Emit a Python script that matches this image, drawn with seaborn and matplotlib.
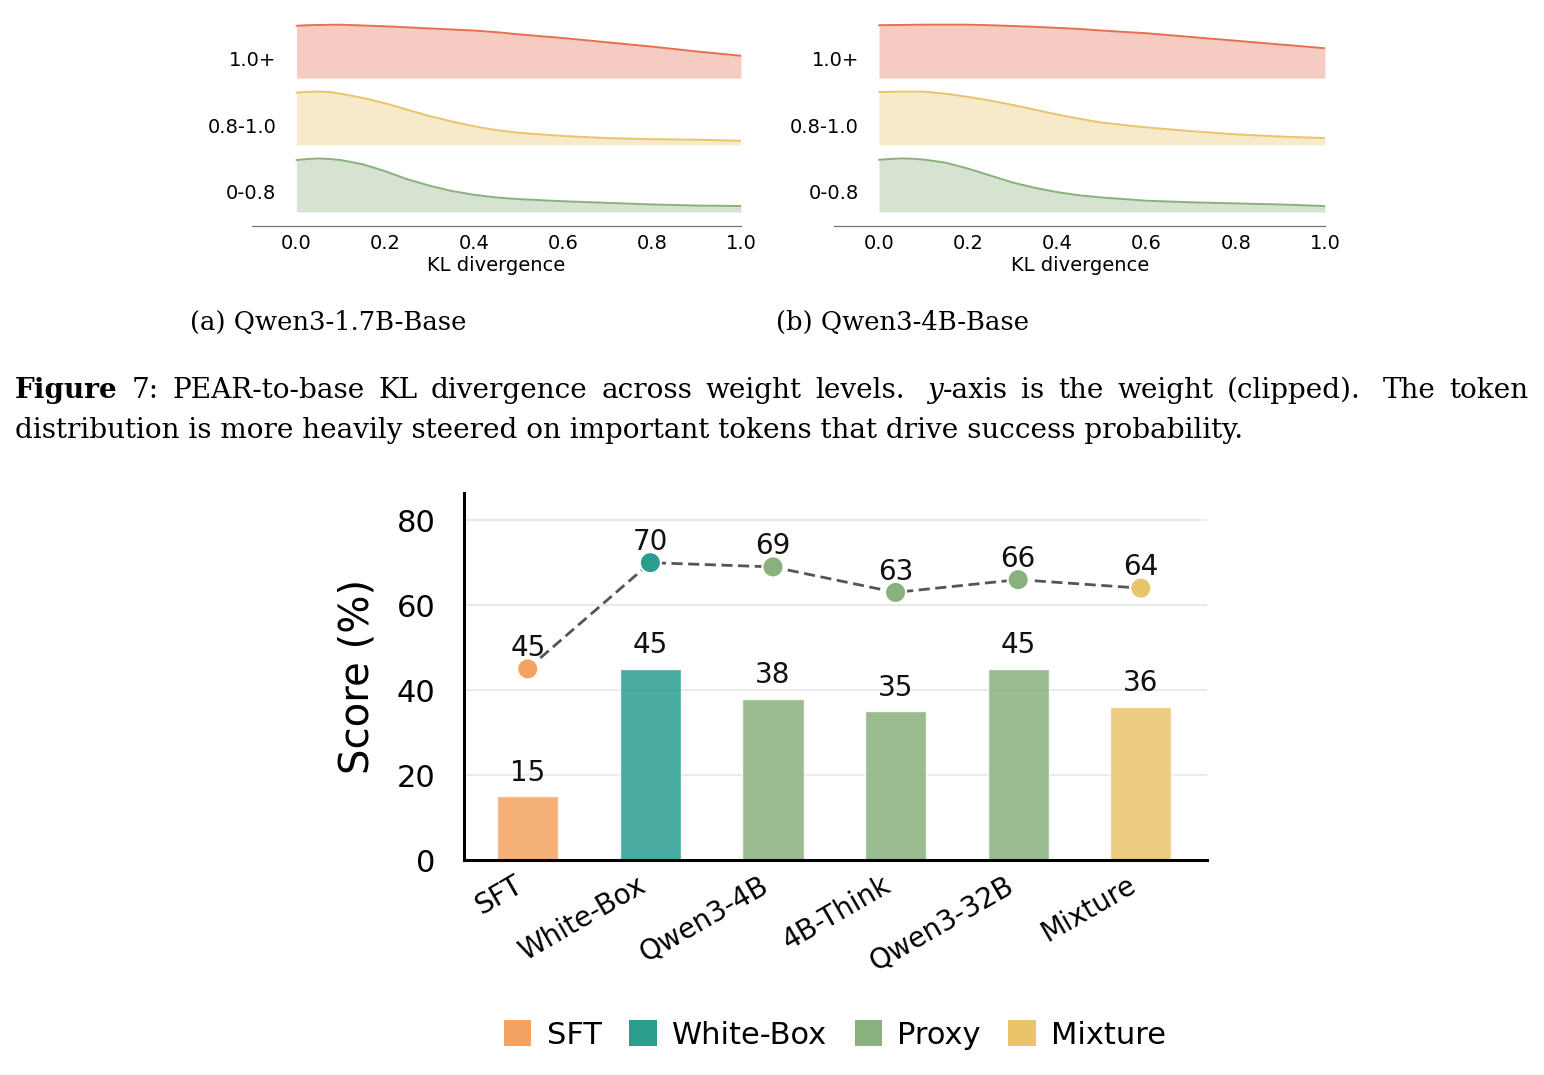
import numpy as np
import pandas as pd
import matplotlib
matplotlib.use("Agg")
import matplotlib.pyplot as plt
from matplotlib.patches import Patch
import seaborn as sb

# ---- data: KL divergence ridges (relative density)
kl_x = [0.0, 0.025, 0.05, 0.075, 0.1, 0.15, 0.2, 0.25, 0.3, 0.35, 0.4, 0.45, 0.5,
        0.6, 0.7, 0.8, 0.9, 1.0]
levels = ["0-0.8", "0.8-1.0", "1.0+"]
level_colors = ["#8ab17d", "#e9c46a", "#e76f51"]

a_low = [0.97, 0.99, 1.0, 0.99, 0.97, 0.89, 0.76, 0.61, 0.49, 0.39, 0.32, 0.27, 0.24,
         0.20, 0.17, 0.14, 0.12, 0.11]
a_mid = [0.98, 0.995, 1.0, 0.99, 0.96, 0.88, 0.78, 0.66, 0.54, 0.44, 0.35, 0.28, 0.23,
         0.17, 0.13, 0.11, 0.10, 0.08]
a_high = [0.98, 0.99, 0.995, 0.998, 1.0, 0.985, 0.97, 0.95, 0.93, 0.91, 0.89, 0.86, 0.82,
          0.75, 0.67, 0.59, 0.50, 0.42]

b_low = [0.975, 0.99, 1.0, 0.995, 0.98, 0.92, 0.81, 0.68, 0.55, 0.45, 0.37, 0.31, 0.27,
         0.21, 0.18, 0.16, 0.14, 0.11]
b_mid = [0.99, 0.995, 1.0, 1.0, 1.0, 0.96, 0.90, 0.83, 0.75, 0.66, 0.57, 0.49, 0.42,
         0.33, 0.26, 0.20, 0.16, 0.13]
b_high = [0.99, 0.993, 0.995, 0.998, 1.0, 1.0, 1.0, 0.99, 0.975, 0.96, 0.94, 0.92, 0.89,
          0.84, 0.77, 0.70, 0.63, 0.56]

# ---- data: scores
models = ["SFT", "White-Box", "Qwen3-4B", "4B-Think", "Qwen3-32B", "Mixture"]
groups = ["SFT", "White-Box", "Proxy", "Proxy", "Proxy", "Mixture"]
bar_scores = [15, 45, 38, 35, 45, 36]
line_scores = [45, 70, 69, 63, 66, 64]
group_names = ["SFT", "White-Box", "Proxy", "Mixture"]
group_colors = ["#f4a261", "#2a9d8f", "#8ab17d", "#e9c46a"]

W, H = 1544, 1075
sb.set_style("white")
plt.rcParams['font.family'] = ['DejaVu Sans']
for k in ['text.color', 'axes.labelcolor', 'xtick.color', 'ytick.color']:
    plt.rcParams[k] = 'black'
SERIF = "DejaVu Serif"

fig = plt.figure(figsize=(W / 100, H / 100), dpi=100)
renderer = fig.canvas.get_renderer()


def px_rect(x0, y0, x1, y1):
    return [x0 / W, 1 - y1 / H, (x1 - x0) / W, (y1 - y0) / H]


def fit_width(t, width):
    w = t.get_window_extent(renderer).width
    t.set_fontsize(t.get_fontsize() * width / w)


def ridge(rect, curves):
    ax = fig.add_axes(rect)
    for i, (lab, col, vals) in enumerate(zip(levels, level_colors, curves)):
        top = i + 0.8 * np.array(vals)
        ax.fill_between(kl_x, i, top, color=col, alpha=0.35, lw=0)
        ax.plot(kl_x, top, color=col, lw=1.4)
        ax.text(-0.045, i + 0.27, lab, ha='right', va='center', fontsize=14)
    ax.set_xlim(-0.1, 1.0)
    ax.set_ylim(-0.21, 2.85)
    ax.set_yticks([])
    ax.set_xticks([0, 0.2, 0.4, 0.6, 0.8, 1.0])
    ax.tick_params(axis='x', labelsize=14, length=3, color='#777', pad=3)
    for s in ['left', 'top', 'right']:
        ax.spines[s].set_visible(False)
    ax.spines['bottom'].set_color('#777')
    ax.spines['bottom'].set_linewidth(0.9)
    ax.set_xlabel("KL divergence", fontsize=14, labelpad=2)
    ax.patch.set_alpha(0)
    return ax


ridge(px_rect(252, 21.35, 741, 226), [a_low, a_mid, a_high])
ridge(px_rect(834.4, 21.35, 1325, 226), [b_low, b_mid, b_high])

# ---- captions
t = fig.text(328 / W, 1 - 322 / H, "(a) Qwen3-1.7B-Base", ha='center', va='center',
             family=SERIF, fontsize=18)
fit_width(t, 277)
sub_fs = t.get_fontsize()
fig.text(903 / W, 1 - 322 / H, "(b) Qwen3-4B-Base", ha='center', va='center',
         family=SERIF, fontsize=sub_fs)

line2 = fig.text(15 / W, 1 - 430 / H,
                 "distribution is more heavily steered on important tokens that drive success probability.",
                 ha='left', va='center', family=SERIF, fontsize=20)
fit_width(line2, 1227)
cap_fs = line2.get_fontsize()

words1 = [[("Figure", "bold", "normal")], [("7:", "normal", "normal")],
          [("PEAR-to-base", "normal", "normal")], [("KL", "normal", "normal")],
          [("divergence", "normal", "normal")], [("across", "normal", "normal")],
          [("weight", "normal", "normal")], [("levels.", "normal", "normal")],
          [("y", "normal", "italic"), ("-axis", "normal", "normal")],
          [("is", "normal", "normal")], [("the", "normal", "normal")],
          [("weight", "normal", "normal")], [("(clipped).", "normal", "normal")],
          [("The", "normal", "normal")], [("token", "normal", "normal")]]
placed = []
total = 0
for word in words1:
    segs = []
    for txt, wt, st in word:
        tt = fig.text(0, 1 - 390 / H, txt, ha='left', va='center', family=SERIF,
                      fontsize=cap_fs, fontweight=wt, fontstyle=st)
        w = tt.get_window_extent(renderer).width
        segs.append((tt, w))
        total += w
    placed.append(segs)
weights = [1.6 if w[-1][0].endswith('.') else 1.0 for w in words1[:-1]]
gap = (1513 - total) / sum(weights)
x = 15
for k, segs in enumerate(placed):
    for tt, w in segs:
        tt.set_x(x / W)
        x += w
    if k < len(weights):
        x += gap * weights[k]

# ---- bar chart
ax = fig.add_axes(px_rect(464, 493, 1207, 860))
ax.set_axisbelow(True)
ax.grid(True, color='#e6e6e6', lw=1.2)
pal = dict(zip(group_names, group_colors))
df = pd.DataFrame({"model": models, "group": groups, "score": bar_scores})
sb.barplot(data=df, x="model", y="score", hue="group", palette=pal, dodge=False,
           saturation=1, width=0.5, alpha=0.85, edgecolor="white", linewidth=1,
           legend=False, ax=ax)
for i, v in enumerate(bar_scores):
    ax.annotate(str(v), (i, v), xytext=(0, 17), textcoords='offset points',
                ha='center', va='center', fontsize=20, color='#111')

pos = list(range(len(models)))
ax.plot(pos, line_scores, ls='--', color='#555', lw=2, dashes=(4, 2), zorder=3)
ax.scatter(pos, line_scores, s=230, c=[pal[g] for g in groups], edgecolors='white',
           linewidths=1.5, zorder=4)
for i, v in enumerate(line_scores):
    ax.annotate(str(v), (i, v), xytext=(0, 15), textcoords='offset points',
                ha='center', va='center', fontsize=20, color='#111')

ax.set_xlim(-0.52, 5.54)
ax.set_ylim(0, 86.4)
ax.set_yticks([0, 20, 40, 60, 80])
ax.set_xticks(pos)
ax.set_xticklabels(models, rotation=30, ha='right', fontsize=20)
ax.tick_params(axis='y', labelsize=22, length=9.5, width=1.6, pad=11)
ax.tick_params(axis='x', length=9, width=1.6, pad=-1)
ax.set_xlabel("")
ax.set_ylabel("Score (%)", fontsize=29, labelpad=14)
for s in ['top', 'right']:
    ax.spines[s].set_visible(False)
for s in ['left', 'bottom']:
    ax.spines[s].set_linewidth(2.2)
    ax.spines[s].set_color('black')

handles = [Patch(facecolor=c, edgecolor='none') for c in group_colors]
fig.legend(handles, group_names, loc='center', bbox_to_anchor=(835 / W, 1 - 1035 / H),
           ncol=4, frameon=False, fontsize=22, handlelength=0.9, handleheight=0.9,
           handletextpad=0.5, columnspacing=0.9)

fig.savefig("out.png", dpi=100)
